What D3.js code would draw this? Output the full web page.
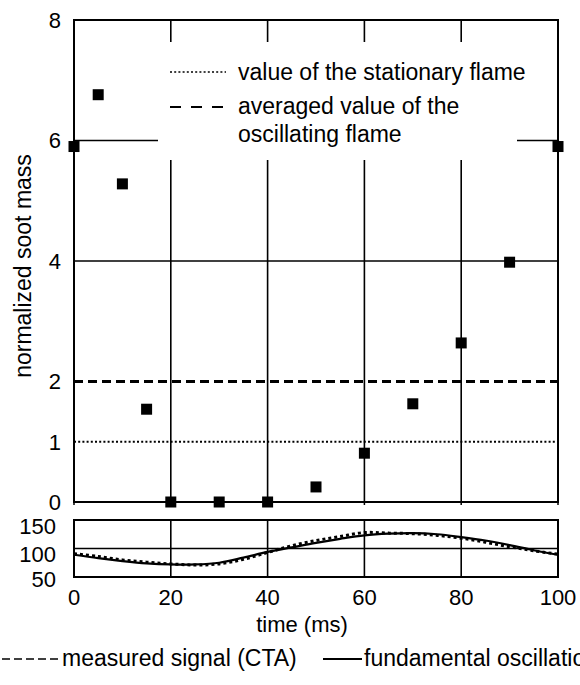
<!DOCTYPE html>
<html>
<head>
<meta charset="utf-8">
<script src="https://cdn.jsdelivr.net/npm/d3@7"></script>
<style>
  html, body { margin: 0; padding: 0; background: #fff; }
  svg { display: block; font-family: "Liberation Sans", Arial, sans-serif; }
</style>
</head>
<body>
<svg id="chart" width="580" height="685"></svg>
<script>
// Normalized soot mass over one oscillation period
const sootTime = [0, 5, 10, 15, 20, 30, 40, 50, 60, 70, 80, 90, 100];
const sootMass = [5.9, 6.76, 5.28, 1.54, 0, 0, 0, 0.25, 0.81, 1.63, 2.64, 3.98, 5.9];
const stationaryValue = 1;
const averagedValue = 2;
const sootTicks = [0, 1, 2, 4, 6, 8];
const sootGrid = [4, 6];

// Velocity signal (CTA) and its fundamental oscillation
const signalTime = [0, 5, 10, 15, 20, 25, 30, 35, 40, 45, 50, 55, 60, 65, 70, 75, 80, 85, 90, 95, 100];
const measuredSignal = [91, 86, 80, 76, 73, 71, 73, 81, 93, 105, 114, 121, 128, 127, 126, 123, 118, 111, 103, 96, 90];
const fundamentalSignal = [89, 83, 78, 74, 72, 72, 75, 84, 94, 102, 110, 117, 123, 126, 127, 125, 120, 114, 106, 97, 89];
const signalTicks = [50, 100, 150];
const signalGrid = [100];

const timeTicks = [0, 20, 40, 60, 80, 100];
const timeGrid = [20, 40, 60, 80];

const svg = d3.select("#chart");
const FS = 22;

const x = d3.scaleLinear().domain([0, 100]).range([74, 558]);
const yTop = d3.scaleLinear().domain([0, 8]).range([502, 20]);
const yBot = d3.scaleLinear().domain([50, 150]).range([577, 520]);

// ---------- upper panel ----------
const upper = svg.append("g");

// grid
upper.selectAll(".vgrid").data(timeGrid).join("line")
  .attr("x1", d => x(d)).attr("x2", d => x(d))
  .attr("y1", yTop(8)).attr("y2", yTop(0))
  .attr("stroke", "#000").attr("stroke-width", 1.6);
upper.selectAll(".hgrid").data(sootGrid).join("line")
  .attr("x1", x(0)).attr("x2", x(100))
  .attr("y1", d => yTop(d)).attr("y2", d => yTop(d))
  .attr("stroke", "#000").attr("stroke-width", 1.6);

// reference levels
upper.append("line")
  .attr("x1", x(0)).attr("x2", x(100))
  .attr("y1", yTop(stationaryValue)).attr("y2", yTop(stationaryValue))
  .attr("stroke", "#000").attr("stroke-width", 1.8).attr("stroke-dasharray", "2,2.2");
upper.append("line")
  .attr("x1", x(0)).attr("x2", x(100))
  .attr("y1", yTop(averagedValue)).attr("y2", yTop(averagedValue))
  .attr("stroke", "#000").attr("stroke-width", 3.2).attr("stroke-dasharray", "9,5");

// legend box (covers the grid)
const lg = upper.append("g");
lg.append("rect").attr("x", 158).attr("y", 42).attr("width", 359).attr("height", 118).attr("fill", "#fff");
lg.append("line").attr("x1", 170).attr("x2", 226).attr("y1", 72).attr("y2", 72)
  .attr("stroke", "#000").attr("stroke-width", 1.6).attr("stroke-dasharray", "2,2.2");
lg.append("line").attr("x1", 170).attr("x2", 228).attr("y1", 107).attr("y2", 107)
  .attr("stroke", "#000").attr("stroke-width", 2).attr("stroke-dasharray", "11,10");
lg.append("text").attr("x", 238).attr("y", 80).attr("font-size", 23).text("value of the stationary flame");
lg.append("text").attr("x", 238).attr("y", 114).attr("font-size", 23).text("averaged value of the");
lg.append("text").attr("x", 238).attr("y", 142).attr("font-size", 23).text("oscillating flame");

// frame
upper.append("path")
  .attr("d", `M${x(0)},${yTop(0)}V${yTop(8)}H${x(100)}V${yTop(0)}Z`)
  .attr("fill", "none").attr("stroke", "#000").attr("stroke-width", 2);

// small ticks under the time axis
upper.selectAll(".tk").data(timeTicks).join("line")
  .attr("x1", d => x(d)).attr("x2", d => x(d))
  .attr("y1", yTop(0)).attr("y2", yTop(0) + 3)
  .attr("stroke", "#000").attr("stroke-width", 1.5);

// y tick labels
upper.selectAll(".yl").data(sootTicks).join("text")
  .attr("x", 61).attr("y", d => yTop(d)).attr("dy", "0.36em")
  .attr("text-anchor", "end").attr("font-size", FS).text(d => d);

// y title
svg.append("text")
  .attr("transform", "translate(31,266) rotate(-90)")
  .attr("text-anchor", "middle").attr("font-size", 23)
  .text("normalized soot mass");

// data squares
const S = 11;
upper.selectAll(".pt").data(sootTime.map((t, i) => [t, sootMass[i]])).join("rect")
  .attr("x", d => x(d[0]) - S / 2).attr("y", d => yTop(d[1]) - S / 2)
  .attr("width", S).attr("height", S).attr("fill", "#000");

// ---------- lower panel ----------
const lower = svg.append("g");
lower.selectAll(".vg").data(timeGrid).join("line")
  .attr("x1", d => x(d)).attr("x2", d => x(d))
  .attr("y1", yBot(150)).attr("y2", yBot(50))
  .attr("stroke", "#000").attr("stroke-width", 1.6);
lower.selectAll(".hg").data(signalGrid).join("line")
  .attr("x1", x(0)).attr("x2", x(100))
  .attr("y1", d => yBot(d)).attr("y2", d => yBot(d))
  .attr("stroke", "#000").attr("stroke-width", 1.6);
lower.append("path")
  .attr("d", `M${x(0)},${yBot(50)}V${yBot(150)}H${x(100)}V${yBot(50)}Z`)
  .attr("fill", "none").attr("stroke", "#000").attr("stroke-width", 2);

const line = d3.line().x(d => x(d[0])).y(d => yBot(d[1])).curve(d3.curveCatmullRom);
lower.append("path")
  .attr("d", line(signalTime.map((t, i) => [t, fundamentalSignal[i]])))
  .attr("fill", "none").attr("stroke", "#000").attr("stroke-width", 2.2);
lower.append("path")
  .attr("d", line(signalTime.map((t, i) => [t, measuredSignal[i]])))
  .attr("fill", "none").attr("stroke", "#000").attr("stroke-width", 3).attr("stroke-dasharray", "3,3");

lower.selectAll(".yl").data(signalTicks).join("text")
  .attr("x", 56).attr("y", d => yBot(d) + (d === 50 ? 2 : 6)).attr("dy", "0.36em")
  .attr("text-anchor", "end").attr("font-size", FS).text(d => d);

lower.selectAll(".xl").data(timeTicks).join("text")
  .attr("x", d => x(d)).attr("y", 605)
  .attr("text-anchor", "middle").attr("font-size", FS).text(d => d);

svg.append("text").attr("x", 302).attr("y", 632)
  .attr("text-anchor", "middle").attr("font-size", FS).text("time (ms)");

// bottom legend
const bl = svg.append("g");
bl.append("line").attr("x1", 2).attr("x2", 60).attr("y1", 659).attr("y2", 659)
  .attr("stroke", "#000").attr("stroke-width", 1.6).attr("stroke-dasharray", "8,4");
bl.append("text").attr("x", 62).attr("y", 666).attr("font-size", 23).text("measured signal (CTA)");
bl.append("line").attr("x1", 323).attr("x2", 362).attr("y1", 659).attr("y2", 659)
  .attr("stroke", "#000").attr("stroke-width", 1.8);
bl.append("text").attr("x", 364).attr("y", 666).attr("font-size", 23).text("fundamental oscillation");
</script>
</body>
</html>
